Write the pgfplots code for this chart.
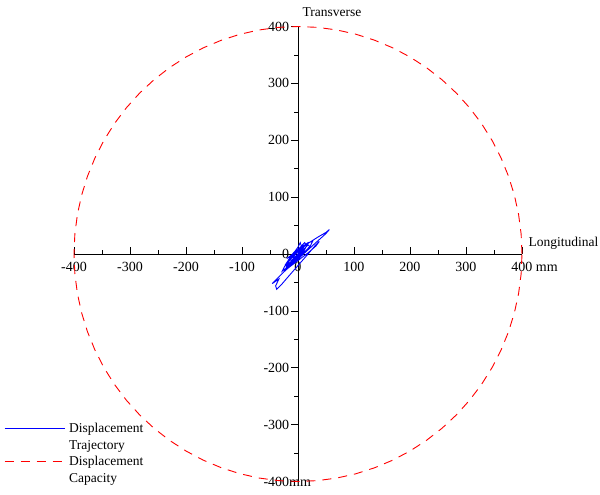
\documentclass[border=0pt]{standalone}
\usepackage{fontspec}
\setmainfont{Liberation Serif}
\usepackage{pgfplots}
\pgfplotsset{compat=1.18}
\begin{document}
\begin{tikzpicture}
\useasboundingbox (-298pt,-241pt) rectangle (302pt,254pt);
\begin{axis}[
  anchor=center, at={(0,0)},
  scale only axis, width=448pt, height=455pt,
  axis lines=middle,
  axis line style={-, line width=0.8pt},
  xmin=-400,xmax=400,ymin=-400,ymax=400,
  xtick={-400,-300,...,400}, ytick={-400,-300,...,400},
  minor tick num=1,
  hide obscured x ticks=false, hide obscured y ticks=false,
  major tick length=6.5pt, minor tick length=3.5pt,
  tick style={black, line width=0.6pt},
  every major x tick/.append style={yshift=3.25pt},
  every minor x tick/.append style={yshift=1.75pt},
  every major y tick/.append style={xshift=-3.25pt},
  every minor y tick/.append style={xshift=-1.75pt},
  xticklabels={-400,-300,-200,-100,0,100,200,300,400\rlap{ mm}},
  yticklabels={-400\rlap{mm},-300,-200,-100,0,100,200,300,400},
  ticklabel style={font=\fontsize{14}{16}\selectfont},
  xticklabel style={yshift=-1pt},
  yticklabel style={xshift=-2pt},
  every axis x label/.style={at={(rel axis cs:1,0.5)}, anchor=south west, xshift=3pt, yshift=1pt},
  every axis y label/.style={at={(rel axis cs:0.5,1)}, anchor=south west, xshift=1pt, yshift=6pt},
  label style={font=\fontsize{13.5}{15}\selectfont},
  xlabel={Longitudinal},
  ylabel={Transverse},
  legend style={at={(rel axis cs:-0.163,0.136)}, anchor=north west, draw=none, fill=none,
     nodes={align=left, font=\fontsize{13.5}{17}\selectfont, inner sep=1pt},
     row sep=3pt},
  legend cell align=left,
  legend image code/.code={\draw[#1] (0pt,8.5pt) -- (60pt,8.5pt); \path (63pt,-8.5pt);},
  clip=false,
]
\addplot[blue, line width=0.9pt] coordinates {
(0,0) (3,5) (8,9) (4,3) (-3,-4) (-8,-6) (-4,2) (2,8) (6,14) (9,10) (5,2) (-2,-6)
(-10,-12) (-14,-10) (-8,-2) (0,6) (8,16) (12,20) (15,14) (10,4) (0,-6) (-12,-16)
(-20,-20) (-16,-10) (-6,2) (6,12) (18,20) (26,22) (22,14) (10,2) (-6,-12) (-20,-24)
(-28,-30) (-24,-22) (-12,-8) (4,8) (20,20) (36,30) (50,38) (56,43) (50,36) (32,20)
(12,2) (-10,-18) (-28,-34) (-40,-46) (-46,-52) (-40,-48) (-34,-44) (-40,-56) (-38,-62)
(-28,-52) (-14,-36) (2,-18) (18,0) (30,14) (38,22) (32,14) (18,2) (2,-10) (-14,-22)
(-24,-30) (-20,-22) (-10,-10) (0,-2) (10,8) (18,16) (22,12) (12,2) (0,-6) (-12,-14)
(-22,-18) (-14,-6) (-4,4) (6,14) (4,20) (0,12) (-6,4) (-14,-4) (-20,-8) (-12,-2)
(-2,6) (6,10) (10,6) (4,0) (-2,-2) (0,0)
};
\addlegendentry{Displacement\\Trajectory}
\addplot[red, line width=0.9pt, dash pattern=on 9pt off 7pt] coordinates {
(400,0) (398.48,34.86) (393.92,69.46) (386.37,103.53) (375.88,136.81) (362.52,169.05)
(346.41,200) (327.66,229.43) (306.42,257.12) (282.84,282.84) (257.12,306.42) (229.43,327.66)
(200,346.41) (169.05,362.52) (136.81,375.88) (103.53,386.37) (69.46,393.92) (34.86,398.48)
(0,400) (-34.86,398.48) (-69.46,393.92) (-103.53,386.37) (-136.81,375.88) (-169.05,362.52)
(-200,346.41) (-229.43,327.66) (-257.12,306.42) (-282.84,282.84) (-306.42,257.12) (-327.66,229.43)
(-346.41,200) (-362.52,169.05) (-375.88,136.81) (-386.37,103.53) (-393.92,69.46) (-398.48,34.86)
(-400,0) (-398.48,-34.86) (-393.92,-69.46) (-386.37,-103.53) (-375.88,-136.81) (-362.52,-169.05)
(-346.41,-200) (-327.66,-229.43) (-306.42,-257.12) (-282.84,-282.84) (-257.12,-306.42) (-229.43,-327.66)
(-200,-346.41) (-169.05,-362.52) (-136.81,-375.88) (-103.53,-386.37) (-69.46,-393.92) (-34.86,-398.48)
(0,-400) (34.86,-398.48) (69.46,-393.92) (103.53,-386.37) (136.81,-375.88) (169.05,-362.52)
(200,-346.41) (229.43,-327.66) (257.12,-306.42) (282.84,-282.84) (306.42,-257.12) (327.66,-229.43)
(346.41,-200) (362.52,-169.05) (375.88,-136.81) (386.37,-103.53) (393.92,-69.46) (398.48,-34.86)
(400,0)
};
\addlegendentry{Displacement\\Capacity}
\end{axis}
\end{tikzpicture}
\end{document}
